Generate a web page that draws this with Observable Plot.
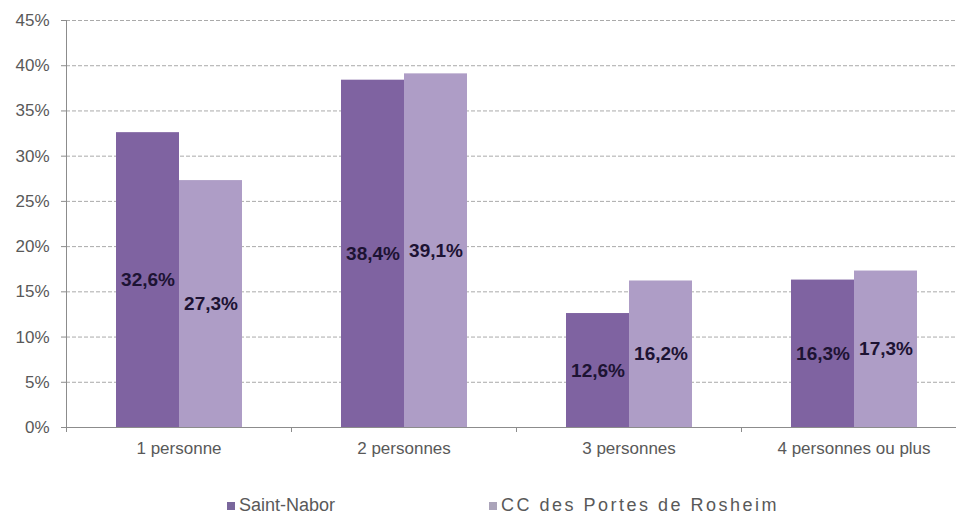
<!DOCTYPE html>
<html><head><meta charset="utf-8">
<script src="https://cdn.jsdelivr.net/npm/d3@7"></script>
<script src="https://cdn.jsdelivr.net/npm/@observablehq/plot@0.6"></script>
<style>
body{margin:0;background:#fff;font-family:"Liberation Sans",Arial,sans-serif;}
#wrap{position:relative;width:956px;height:515px;overflow:hidden;}
#legend{position:absolute;top:495px;left:0;width:956px;height:22px;font-size:18px;color:#595959;}
.item{position:absolute;top:0;display:flex;align-items:center;white-space:nowrap;}
.sw{width:8px;height:8px;margin-right:4px;display:inline-block;}
</style></head><body>
<div id="wrap"><div id="chart"></div><div id="legend"></div></div>
<script>
const categories = ["1 personne", "2 personnes", "3 personnes", "4 personnes ou plus"];
const series = ["Saint-Nabor", "CC des Portes de Rosheim"];
const saintNabor = [32.6, 38.4, 12.6, 16.3];
const ccPortes = [27.3, 39.1, 16.2, 17.3];
const yTicks = [0, 5, 10, 15, 20, 25, 30, 35, 40, 45];
const barColors = ["#7f63a1", "#ae9dc6"];
const legendColors = ["#7a679c", "#aba4ba"];

const rows = categories.flatMap((c, i) => [
  {cat: c, series: series[0], value: saintNabor[i]},
  {cat: c, series: series[1], value: ccPortes[i]}
]);
const fmt = v => v.toFixed(1).replace(".", ",") + "%";

const chart = Plot.plot({
  width: 956, height: 480,
  marginTop: 20, marginBottom: 53, marginLeft: 66, marginRight: 0,
  style: {fontFamily: "'Liberation Sans', Arial, sans-serif", background: "#fff"},
  fx: {domain: categories, range: [66, 966], padding: 0, label: null, axis: null},
  x: {domain: series, paddingInner: 0, paddingOuter: 0.758, axis: null},
  y: {domain: [0, 45], axis: null},
  color: {domain: series, range: barColors},
  marks: [
    Plot.gridY(yTicks.slice(1), {stroke: "#aaaaaa", strokeOpacity: 1, strokeDasharray: "4,2"}),
    Plot.barY(rows, {fx: "cat", x: "series", y: "value", fill: "series"}),
    Plot.text(rows, {fx: "cat", x: "series", y: d => d.value / 2, text: d => fmt(d.value),
      fontWeight: "bold", fontSize: 19, fill: "#1d1333"}),
    Plot.ruleY([0], {stroke: "#8c8c8c"}),
    Plot.frame({anchor: "left", facetAnchor: "left", stroke: "#8c8c8c"}),
    Plot.axisY({ticks: yTicks, tickFormat: d => d + "%", tickSize: 5, tickPadding: 12,
      fontSize: 17, color: "#595959", stroke: "#8c8c8c", label: null}),
    Plot.axisFx({anchor: "bottom", tickSize: 0, tickPadding: 14, fontSize: 17, color: "#595959", label: null}),
    Plot.axisFx({anchor: "bottom", tickSize: 5, tickFormat: () => "", dx: -112.5, stroke: "#8c8c8c", label: null})
  ]
});
document.getElementById("chart").appendChild(chart);

const legend = document.getElementById("legend");
const legendLeft = [227, 489];
const legendSpacing = ["0px", "2.5px"];
series.forEach((s, i) => {
  const it = document.createElement("div");
  it.className = "item";
  it.style.left = legendLeft[i] + "px";
  it.style.letterSpacing = legendSpacing[i];
  it.innerHTML = `<span class="sw" style="background:${legendColors[i]}"></span><span>${s}</span>`;
  legend.appendChild(it);
});
</script>
</body></html>
